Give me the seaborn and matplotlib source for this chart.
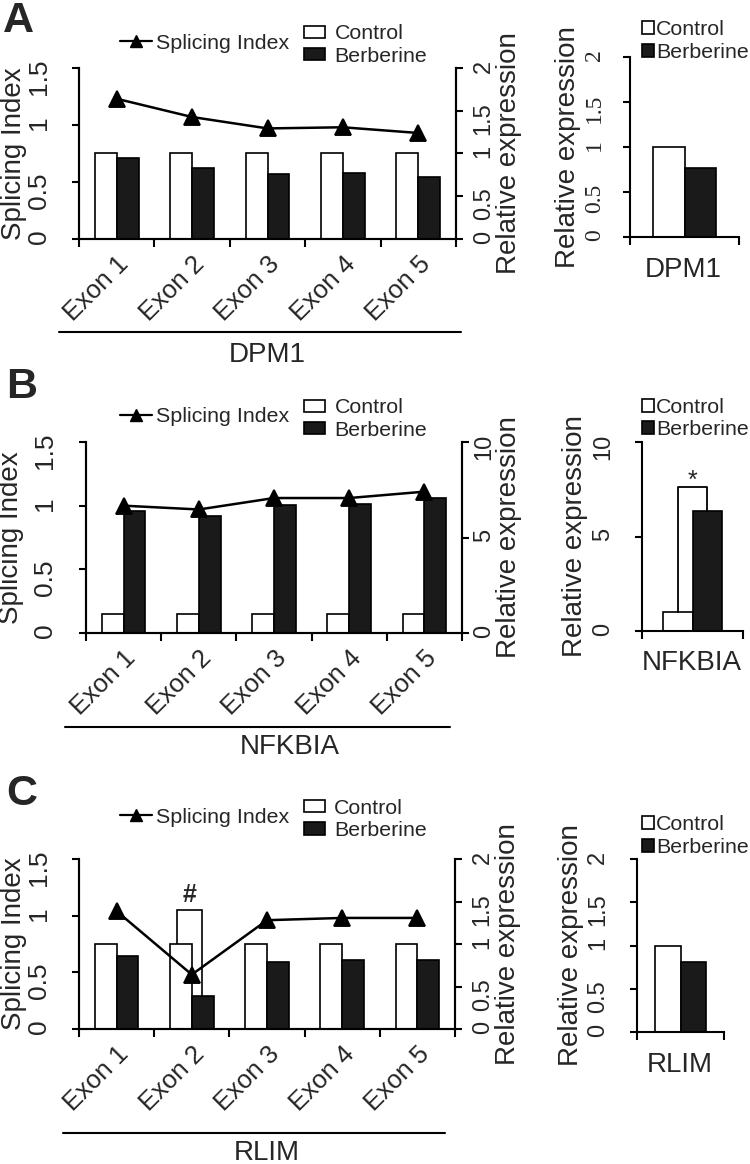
import numpy as np
import pandas as pd
import seaborn as sns
import matplotlib.pyplot as plt
from matplotlib.lines import Line2D
from matplotlib.patches import Patch

# ---- data ----
exons = ['Exon 1', 'Exon 2', 'Exon 3', 'Exon 4', 'Exon 5']
treatments = ['Control', 'Berberine']

# DPM1
dpm1_si = [1.23, 1.07, 0.97, 0.98, 0.93]
dpm1_control = [1.0, 1.0, 1.0, 1.0, 1.0]
dpm1_berberine = [0.95, 0.83, 0.76, 0.77, 0.72]
dpm1_gene = [1.0, 0.77]

# NFKBIA
nfkbia_si = [1.0, 0.97, 1.06, 1.06, 1.11]
nfkbia_control = [1.0, 1.0, 1.0, 1.0, 1.0]
nfkbia_berberine = [6.4, 6.15, 6.7, 6.75, 7.05]
nfkbia_gene = [1.0, 6.35]
nfkbia_bracket = 7.6

# RLIM
rlim_si = [1.04, 0.48, 0.96, 0.98, 0.98]
rlim_control = [1.0, 1.0, 1.0, 1.0, 1.0]
rlim_berberine = [0.855, 0.385, 0.785, 0.81, 0.81]
rlim_exon2_extra = 1.40
rlim_gene = [1.0, 0.81]

si_ticks = [0, 0.5, 1, 1.5]
expr_ticks_2 = [0, 0.5, 1, 1.5, 2]
expr_ticks_10 = [0, 5, 10]

W, H = 750, 1164
BLACK = '#1a1a1a'
PAL = {'Control': 'white', 'Berberine': BLACK}
BAR_W = 0.58

sns.set_theme(style='ticks')
plt.rcParams['font.family'] = ['Liberation Sans', 'DejaVu Sans']


def rect(x0, y0, x1, y1):
    return [x0 / W, 1 - y1 / H, (x1 - x0) / W, (y1 - y0) / H]


def fmt(ticks):
    return [f'{t:g}' for t in ticks]


def bar_legend(ax, anchor, hl, hh, pad):
    handles = [Patch(facecolor='white', edgecolor='black', lw=1.2),
               Patch(facecolor=BLACK, edgecolor='black', lw=1.2)]
    ax.legend(handles=handles, labels=treatments, loc='center left',
              bbox_to_anchor=anchor, frameon=False, borderpad=0,
              borderaxespad=0, handlelength=hl, handleheight=hh,
              handletextpad=pad, labelspacing=0.15, fontsize=15.4)


def main_panel(fig, r, gene, si, ctrl, berb, rticks, p):
    ax = fig.add_axes(r)
    ax2 = ax.twinx()
    df = pd.DataFrame({'exon': exons * 2,
                       'treatment': ['Control'] * 5 + ['Berberine'] * 5,
                       'value': ctrl + berb})
    sns.barplot(data=df, x='exon', y='value', hue='treatment', order=exons,
                hue_order=treatments, palette=PAL, saturation=1,
                edgecolor='black', linewidth=1.2, width=BAR_W,
                errorbar=None, legend=False, ax=ax2)
    df_si = pd.DataFrame({'exon': exons, 'si': si})
    sns.pointplot(data=df_si, x='exon', y='si', order=exons, color='black',
                  markers='^', markersize=11, linewidth=1.8, errorbar=None,
                  ax=ax)
    ax.set_zorder(ax2.get_zorder() + 1)
    ax.patch.set_visible(False)

    ax.set_xlim(-0.5, len(exons) - 0.5)
    ax.set_ylim(0, 1.5)
    ax2.set_ylim(0, rticks[-1])
    ax.set_yticks(si_ticks, labels=fmt(si_ticks))
    ax2.set_yticks(rticks, labels=fmt(rticks))
    ax.set_xticks(np.arange(-0.5, len(exons)), labels=[])
    ax.set_xticks(range(len(exons)), labels=exons, minor=True)
    ax.set_xlabel('')
    ax.set_ylabel('Splicing Index', fontsize=20, labelpad=p['lpad'])
    ax2.set_ylabel('Relative expression', fontsize=20, labelpad=p['rpad'])

    for a in (ax, ax2):
        a.spines['top'].set_visible(False)
        for s in a.spines.values():
            s.set_linewidth(1.5)
            s.set_color('black')
    ax.tick_params(axis='x', which='major', length=5.5, width=1.5,
                   color='black')
    ax.tick_params(axis='x', which='minor', length=0, pad=p['xpad'],
                   labelsize=18.5)
    ax.tick_params(axis='y', length=5, width=1.5, labelrotation=90,
                   pad=p['ltick'], labelsize=19, color='black')
    ax2.tick_params(axis='y', length=5, width=1.5, labelrotation=90,
                    pad=p['rtick'], labelsize=17, color='black')
    for lab in ax.get_xticklabels(minor=True):
        lab.set_rotation(45)
        lab.set_ha('right')
        lab.set_va('top')
        lab.set_rotation_mode('anchor')

    # group line + gene name under the exon labels
    ax.plot(p['line_x'], [p['line_y']] * 2, transform=ax.transAxes,
            clip_on=False, color='black', lw=1.5)
    ax.text(p['gene_x'], p['gene_y'], gene, transform=ax.transAxes,
            ha='center', va='center', fontsize=20)

    ax.legend(handles=[Line2D([], [], color='black', marker='^',
                              markersize=8, lw=1.6)],
              labels=['Splicing Index'], loc='center left',
              bbox_to_anchor=p['leg1'], frameon=False, borderpad=0,
              borderaxespad=0, handlelength=1.5, handletextpad=0.2,
              fontsize=15.4)
    bar_legend(ax2, p['leg2'], 1.0, 0.5, 0.42)
    return ax, ax2


def side_panel(fig, r, gene, vals, rticks, p):
    ax = fig.add_axes(r)
    df = pd.DataFrame({'gene': [gene, gene], 'treatment': treatments,
                       'value': vals})
    sns.barplot(data=df, x='gene', y='value', hue='treatment',
                hue_order=treatments, palette=PAL, saturation=1,
                edgecolor='black', linewidth=1.2, width=BAR_W,
                errorbar=None, legend=False, ax=ax)
    ax.set_xlim(-0.5, 0.5)
    ax.set_ylim(0, rticks[-1])
    ax.set_xticks([-0.5, 0.5], labels=[])
    ax.set_yticks(rticks, labels=fmt(rticks))
    ax.set_xlabel('')
    ax.set_ylabel('Relative expression', fontsize=20, labelpad=p['lpad'])
    ax.spines['top'].set_visible(False)
    ax.spines['right'].set_visible(False)
    for s in ax.spines.values():
        s.set_linewidth(1.5)
        s.set_color('black')
    ax.tick_params(axis='x', length=5.5, width=1.5, color='black')
    ax.tick_params(axis='y', length=5, width=1.5, labelrotation=90,
                   pad=p['tick'], labelsize=17, color='black',
                   labelfontfamily=p.get('font', 'Liberation Sans'))
    ax.text(p['gene_x'], p['gene_y'], gene, transform=ax.transAxes,
            ha='center', va='center', fontsize=20)
    bar_legend(ax, p['leg'], 0.56, 0.56, 0.1)
    return ax


fig = plt.figure(figsize=(W / 100, H / 100), dpi=100)

# ---- A: DPM1 ----
main_panel(fig, rect(79, 68, 456, 239), 'DPM1', dpm1_si, dpm1_control,
           dpm1_berberine, expr_ticks_2,
           dict(lpad=0, rpad=1, xpad=9, ltick=15, rtick=7,
                line_x=[-0.053, 1.013], line_y=-0.544,
                gene_x=0.499, gene_y=-0.678,
                leg1=(0.109, 1.146), leg2=(0.597, 1.135)))
side_panel(fig, rect(630, 57, 739, 237), 'DPM1', dpm1_gene, expr_ticks_2,
           dict(lpad=2, tick=13, font='Liberation Serif',
                gene_x=0.486, gene_y=-0.183, leg=(0.11, 1.089)))

# ---- B: NFKBIA ----
main_panel(fig, rect(86, 442, 462, 633), 'NFKBIA', nfkbia_si,
           nfkbia_control, nfkbia_berberine, expr_ticks_10,
           dict(lpad=6, rpad=1, xpad=9, ltick=16, rtick=3,
                line_x=[-0.056, 0.968], line_y=-0.492,
                gene_x=0.543, gene_y=-0.597,
                leg1=(0.090, 1.131), leg2=(0.58, 1.120)))
axb = side_panel(fig, rect(642, 442, 743, 631), 'NFKBIA', nfkbia_gene,
                 expr_ticks_10,
                 dict(lpad=3, tick=15, gene_x=0.495, gene_y=-0.169,
                      leg=(0.0, 1.124)))
half = BAR_W / 4
axb.plot([-half, -half, half, half],
         [nfkbia_gene[0], nfkbia_bracket, nfkbia_bracket, nfkbia_gene[1]],
         color='black', lw=1.3)
axb.text(0, nfkbia_bracket, '*', ha='center', va='baseline',
         fontsize=18)

# ---- C: RLIM ----
axc, axc2 = main_panel(fig, rect(79, 859, 455, 1029), 'RLIM', rlim_si,
                       rlim_control, rlim_berberine, expr_ticks_2,
                       dict(lpad=0, rpad=1, xpad=9, ltick=15, rtick=7,
                            line_x=[-0.043, 0.973], line_y=-0.612,
                            gene_x=0.5, gene_y=-0.729,
                            leg1=(0.109, 1.247), leg2=(0.598, 1.232)))
i2 = exons.index('Exon 2')
axc2.bar(i2 - 0.03, rlim_exon2_extra, width=0.33, facecolor='white',
         edgecolor='black', linewidth=1.2, zorder=0.5)
axc2.text(i2 - 0.03, rlim_exon2_extra + 0.09, '#', ha='center',
          va='baseline', fontsize=18, fontweight='bold')
side_panel(fig, rect(637, 859, 724, 1032), 'RLIM', rlim_gene, expr_ticks_2,
           dict(lpad=2, tick=15, gene_x=0.494, gene_y=-0.191,
                leg=(0.057, 1.133)))

# panel letters
for letter, x, y in [('A', 3, 1), ('B', 6, 367), ('C', 6, 774)]:
    fig.text(x / W, 1 - y / H, letter, ha='left', va='top',
             fontsize=31, fontweight='bold')

fig.savefig('out.png', dpi=100)
